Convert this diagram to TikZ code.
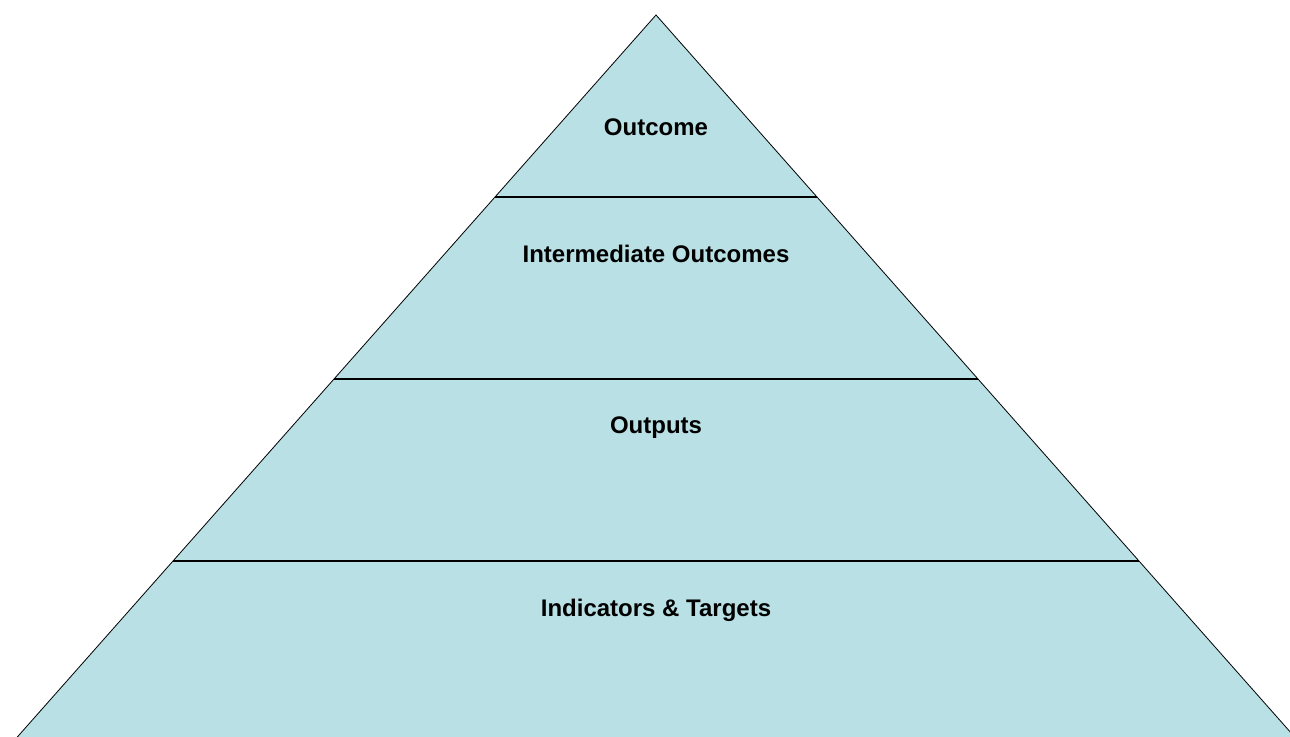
\documentclass[tikz,border=0pt]{standalone}
\usepackage{fontspec}
\setmainfont{Liberation Sans}
\usetikzlibrary{calc}

\definecolor{layerblue}{RGB}{185,224,228}

\begin{document}
\begin{tikzpicture}[x=1pt, y=-1pt,
  layer/.style={font=\bfseries\fontsize{24}{28}\selectfont, inner sep=0pt, anchor=base},
  divider/.style={line width=1.6pt, black}]

  \useasboundingbox (0,0) rectangle (1290,736);

  % Define corners
  \coordinate (apex) at (656,15);
  \coordinate (bl) at (16,738.5);
  \coordinate (br) at (1296,738.5);
  % Define divider ends
  \coordinate (l1) at (495,197);
  \coordinate (r1) at (817,197);
  \coordinate (l2) at (334,379);
  \coordinate (r2) at (978,379);
  \coordinate (l3) at (173,561);
  \coordinate (r3) at (1139,561);

  % Draw the pyramid
  \draw[fill=layerblue, line width=0.8pt] (apex) -- (bl) -- (br) -- cycle;
  \draw[divider] (l1) -- (r1);
  \draw[divider] (l2) -- (r2);
  \draw[divider] (l3) -- (r3);

  % Define labels
  \node[layer] (outcome) at (656,135) {Outcome};
  \node[layer] (inter) at (656,262) {Intermediate Outcomes};
  \node[layer] (outputs) at (656,433) {Outputs};
  \node[layer] (indic) at (656,616) {Indicators \& Targets};

\end{tikzpicture}
\end{document}
